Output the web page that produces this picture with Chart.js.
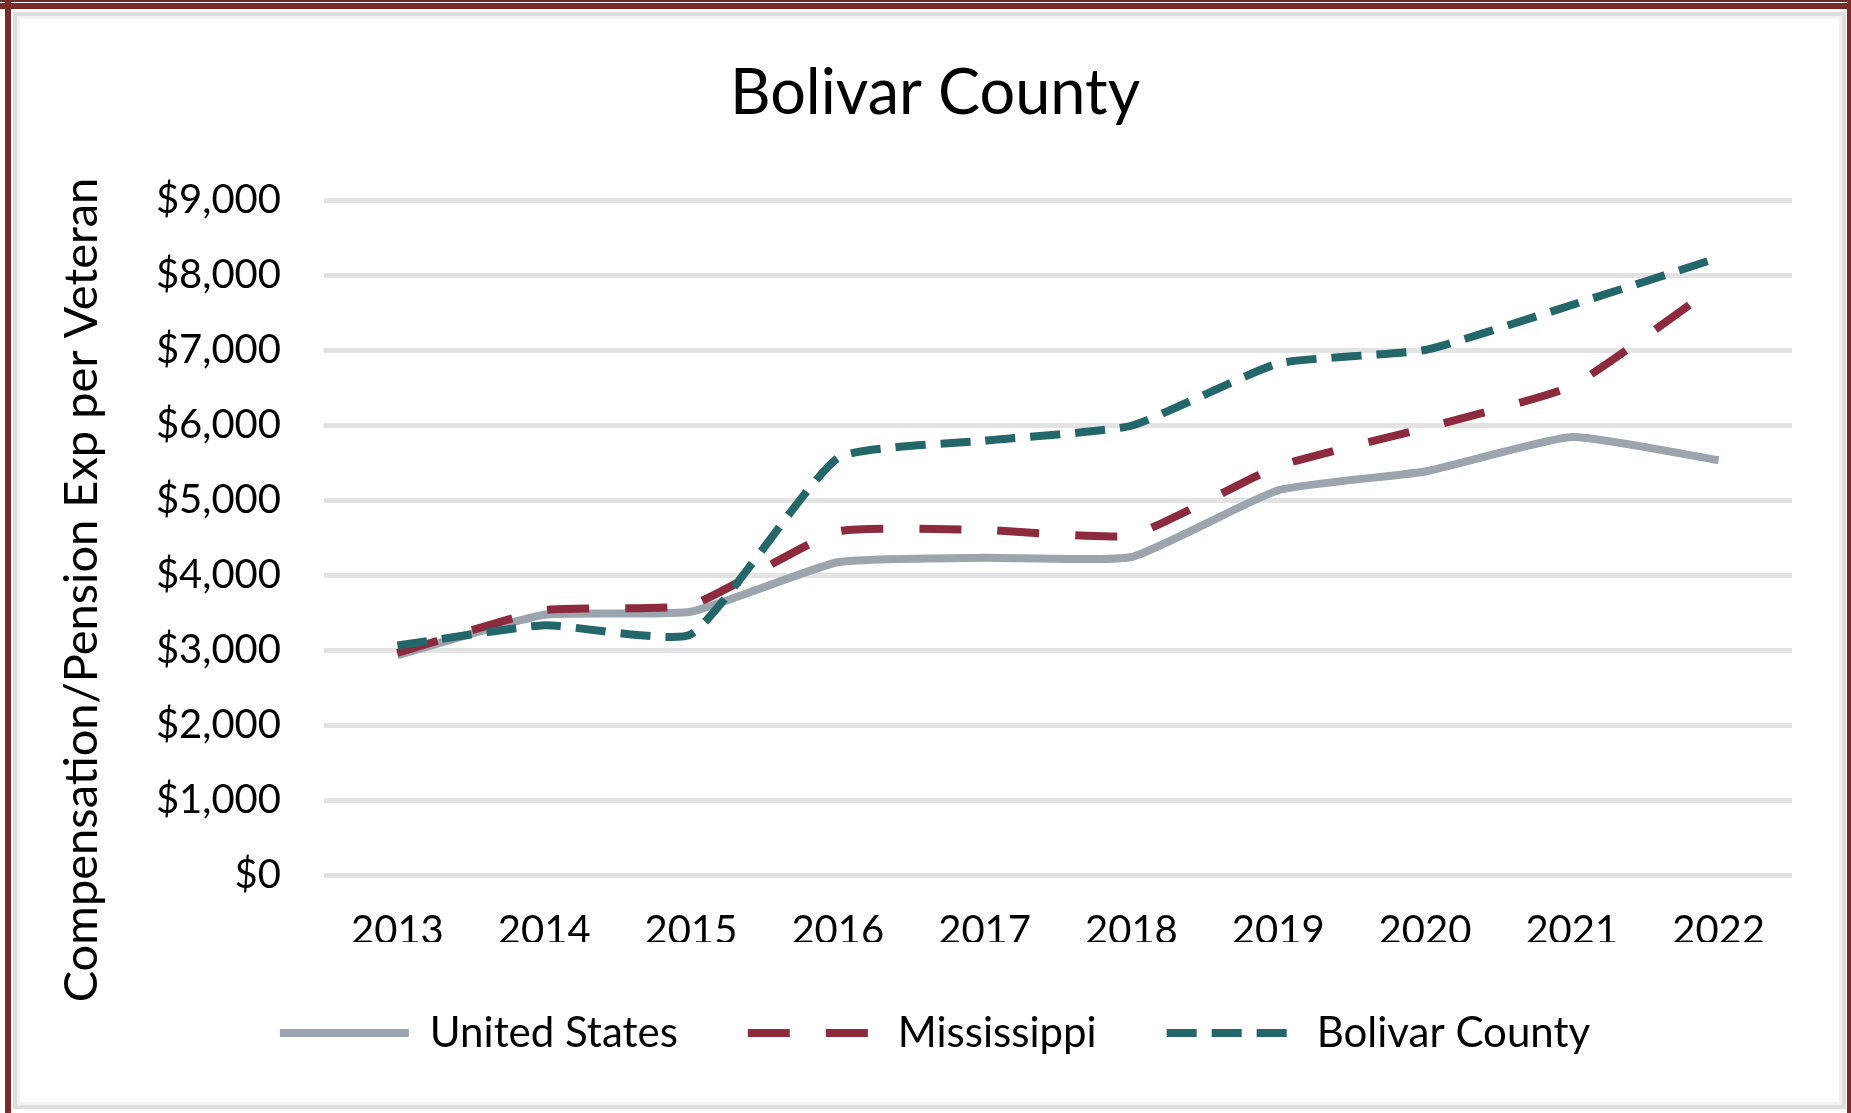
<!DOCTYPE html>
<html>
<head>
<meta charset="utf-8">
<title>Bolivar County</title>
<script src="https://cdn.jsdelivr.net/npm/chart.js@4"></script>
<style>
  html, body { margin: 0; padding: 0; background: #fff; overflow: hidden; }
  #wrap { position: relative; width: 1851px; height: 1113px; background: #fff; }
  #c { position: absolute; left: 0; top: 0; }
  .frame { position: absolute; pointer-events: none; }
</style>
</head>
<body>
<div id="wrap">
  <canvas id="c" width="1851" height="1113"></canvas>
  <!-- maroon outer frame -->
  <div class="frame" style="left:0;top:0;width:1851px;height:2px;background:#6f2a2a"></div>
  <div class="frame" style="left:0;top:3px;width:1851px;height:6px;background:#7b2b27"></div>
  <div class="frame" style="left:5px;top:0;width:6px;height:1113px;background:#7b2b27"></div>
  <div class="frame" style="left:1847px;top:0;width:4px;height:1113px;background:#7b2b27"></div>
  <!-- light grey inner frame -->
  <div class="frame" style="left:13px;top:12px;width:1825px;height:1089px;border:4px solid #dedede;box-shadow:inset 0 0 0 3px #f2f2f2"></div>
</div>
<script>
// Compensation/pension expenditure per veteran, 2013-2022
const years = ['2013', '2014', '2015', '2016', '2017', '2018', '2019', '2020', '2021', '2022'];
const unitedStates = [2930, 3470, 3510, 4170, 4230, 4240, 5130, 5380, 5840, 5530];
const mississippi = [2960, 3530, 3600, 4580, 4600, 4530, 5450, 5960, 6520, 7880];
const bolivarCounty = [3060, 3330, 3210, 5560, 5790, 5990, 6820, 7000, 7600, 8230];
const seriesNames = ['United States', 'Mississippi', 'Bolivar County'];
const chartTitle = 'Bolivar County';
const yAxisTitle = 'Compensation/Pension Exp per Veteran';
const yTickValues = [0, 1000, 2000, 3000, 4000, 5000, 6000, 7000, 8000, 9000];

const FONT = 'Lato';

// Rotated y-axis caption, centred on the plot block including the year labels
const yTitlePlugin = {
  id: 'yTitle',
  afterDraw(chart) {
    const ctx = chart.ctx;
    ctx.save();
    ctx.translate(97, 590);
    ctx.rotate(-Math.PI / 2);
    ctx.font = '47px ' + FONT;
    ctx.fillStyle = '#000';
    ctx.textAlign = 'center';
    ctx.textBaseline = 'alphabetic';
    ctx.fillText(yAxisTitle, 0, 0);
    ctx.restore();
  }
};

function money(v) {
  return '$' + v.toLocaleString('en-US');
}

// Legend swatches: a line segment carrying each series' own dash pattern
function legendLabels(chart) {
  const items = Chart.defaults.plugins.legend.labels.generateLabels(chart);
  return items.map((item) => {
    const ds = chart.data.datasets[item.datasetIndex];
    item.lineDash = ds.borderDash || [];
    item.lineWidth = ds.borderWidth;
    item.strokeStyle = ds.borderColor;
    item.fillStyle = ds.borderColor;
    item.lineCap = 'butt';
    item.pointStyle = 'line';
    return item;
  });
}

function build() {
  new Chart(document.getElementById('c'), {
    type: 'line',
    data: {
      labels: years,
      datasets: [
        {
          label: seriesNames[0],
          data: unitedStates,
          borderColor: '#9ca5ae',
          backgroundColor: '#9ca5ae',
          borderWidth: 8,
          order: 3
        },
        {
          label: seriesNames[1],
          data: mississippi,
          borderColor: '#8d2a3d',
          backgroundColor: '#8d2a3d',
          borderWidth: 8,
          borderDash: [42, 36],
          order: 2
        },
        {
          label: seriesNames[2],
          data: bolivarCounty,
          borderColor: '#24676b',
          backgroundColor: '#24676b',
          borderWidth: 8,
          borderDash: [30, 15],
          order: 1
        }
      ]
    },
    options: {
      responsive: false,
      animation: false,
      events: [],
      elements: {
        point: { radius: 0 },
        line: { tension: 0.15, borderCapStyle: 'butt', borderJoinStyle: 'round', fill: false }
      },
      layout: { padding: { left: 78, right: 59, top: 0, bottom: 49 } },
      plugins: {
        title: {
          display: true,
          text: chartTitle,
          color: '#000',
          font: { family: FONT, size: 63, weight: 'normal', lineHeight: 1.2 },
          padding: { top: 56, bottom: 68.4 }
        },
        legend: {
          position: 'bottom',
          labels: {
            usePointStyle: true,
            pointStyle: 'line',
            pointStyleWidth: 129,
            padding: 70,
            color: '#000',
            font: { family: FONT, size: 42 },
            generateLabels: legendLabels,
            sort: (a, b) => a.datasetIndex - b.datasetIndex
          }
        },
        tooltip: { enabled: false }
      },
      scales: {
        x: {
          offset: true,
          grid: { display: false, drawTicks: false },
          border: { display: false },
          ticks: { color: '#000', padding: 32, font: { family: FONT, size: 40, lineHeight: 1.2 }, maxRotation: 0 },
          afterFit(scale) { scale.height = 67; }
        },
        y: {
          min: 0,
          max: 9000,
          afterBuildTicks(scale) { scale.ticks = yTickValues.map(v => ({ value: v })); },
          grid: { color: '#e3e3e3', lineWidth: 5, drawTicks: false },
          border: { display: false },
          ticks: {
            color: '#000',
            padding: 43,
            font: { family: FONT, size: 40 },
            callback: (v) => money(v)
          },
          afterFit(scale) { scale.width = 246; }
        }
      }
    },
    plugins: [yTitlePlugin]
  });
}

if (document.fonts && document.fonts.load) {
  Promise.all([document.fonts.load('40px ' + FONT), document.fonts.load('63px ' + FONT)])
    .then(build, build);
} else {
  build();
}
</script>
</body>
</html>
